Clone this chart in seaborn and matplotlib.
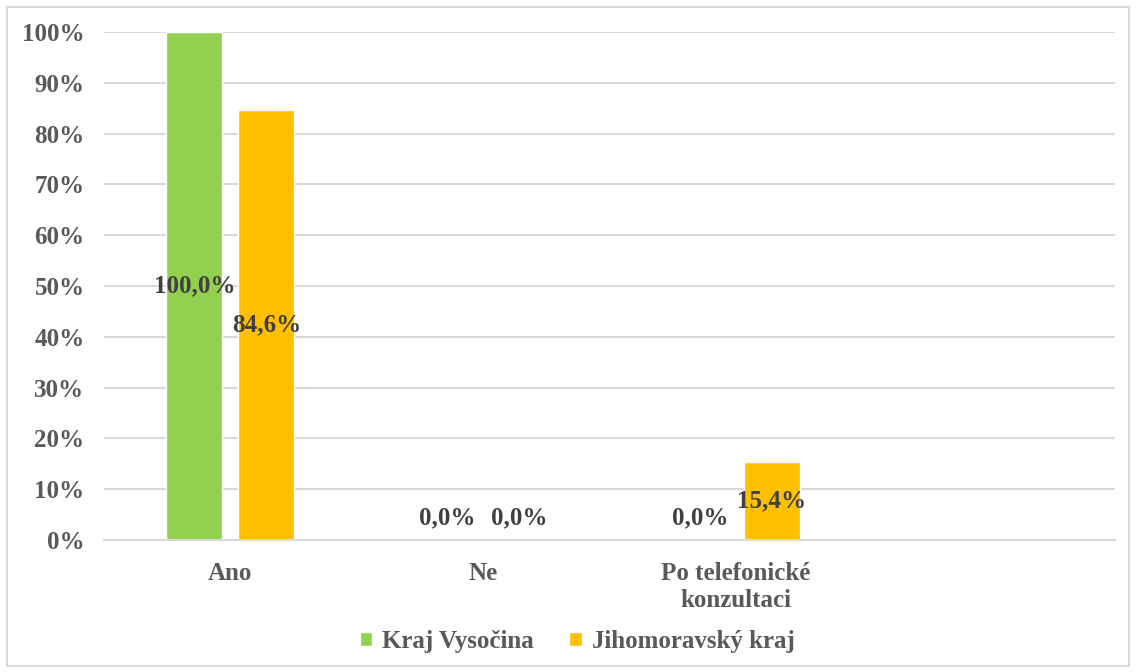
import pandas as pd
import matplotlib
matplotlib.use('Agg')
import matplotlib.pyplot as plt
import seaborn as sns
from matplotlib.patches import Rectangle

categories = ['Ano', 'Ne', 'Po telefonické\nkonzultaci']
series = ['Kraj Vysočina', 'Jihomoravský kraj']
vysocina = [100.0, 0.0, 0.0]
jihomoravsky = [84.6, 0.0, 15.4]
colors = ['#92d050', '#ffc000']

df = pd.DataFrame({
    'kategorie': categories * 2,
    'kraj': [series[0]] * 3 + [series[1]] * 3,
    'hodnota': vysocina + jihomoravsky,
})

sns.set_theme(style='white')
plt.rcParams['font.family'] = ['Liberation Serif', 'DejaVu Serif']
plt.rcParams['font.weight'] = 'bold'

fig = plt.figure(figsize=(11.36, 6.72), dpi=100)
ax = fig.add_axes([104 / 1136, 1 - 540 / 672, (1115 - 104) / 1136, (540 - 32) / 672])

sns.barplot(data=df, x='kategorie', y='hodnota', hue='kraj', order=categories,
            hue_order=series, palette=colors, width=0.57, gap=0.22,
            saturation=1, ax=ax, legend=True)

ax.set_xlim(-0.5, 3.5)
ax.set_ylim(0, 100)
ax.set_yticks(range(0, 101, 10))
ax.set_yticklabels([f'{v}%' for v in range(0, 101, 10)])
ax.yaxis.grid(True, color='#d9d9d9', lw=1.5)
ax.set_axisbelow(True)
for s in ['top', 'right', 'left']:
    ax.spines[s].set_visible(False)
ax.spines['bottom'].set_color('#d9d9d9')
ax.spines['bottom'].set_linewidth(1.5)
ax.tick_params(axis='both', length=0, labelsize=18, colors='#595959')
ax.tick_params(axis='y', pad=14)
ax.tick_params(axis='x', pad=16)
ax.set_xlabel('')
ax.set_ylabel('')
for lab in ax.get_xticklabels() + ax.get_yticklabels():
    lab.set_fontweight('bold')

# popisky hodnot
for cont in ax.containers:
    for bar in cont:
        v = bar.get_height()
        xc = bar.get_x() + bar.get_width() / 2
        txt = f'{v:.1f}%'.replace('.', ',')
        if v == 0:
            ax.annotate(txt, (xc, 0), xytext=(0, 8), textcoords='offset points',
                        ha='center', va='bottom', fontsize=18, fontweight='bold',
                        color='#404040')
        else:
            ax.text(xc, v / 2, txt, ha='center', va='center', fontsize=18,
                    fontweight='bold', color='#404040')

leg = ax.legend(loc='center', bbox_to_anchor=(0.468, -0.2), ncol=2, frameon=False,
                fontsize=18, handlelength=0.5, handleheight=0.5, handletextpad=0.4,
                columnspacing=1.4)
for t in leg.get_texts():
    t.set_color('#595959')
    t.set_fontweight('bold')

fig.patches.append(Rectangle((7 / 1136, 6 / 672), 1 - 14 / 1136, 1 - 13 / 672,
                             transform=fig.transFigure, fill=False,
                             edgecolor='#d9d9d9', lw=1.5))

fig.savefig('out.png', dpi=100)
